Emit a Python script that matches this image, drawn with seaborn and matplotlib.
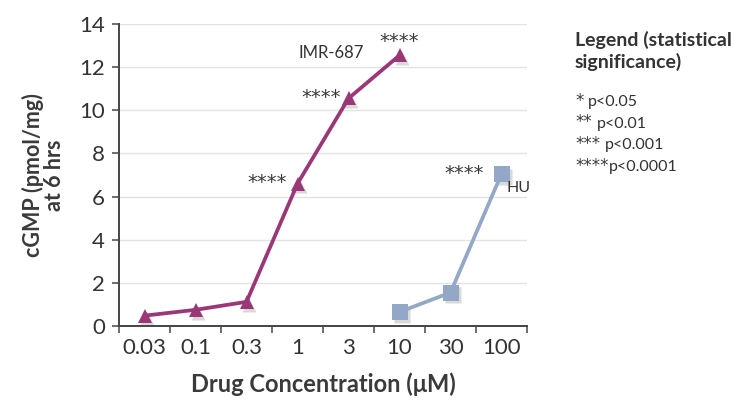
import numpy as np
import pandas as pd
import matplotlib
matplotlib.use("Agg")
import matplotlib.pyplot as plt
import seaborn as sns
from matplotlib.ticker import FixedLocator

categories = ["0.03", "0.1", "0.3", "1", "3", "10", "30", "100"]
imr_conc = ["0.03", "0.1", "0.3", "1", "3", "10"]
imr_vals = [0.48, 0.75, 1.12, 6.6, 10.55, 12.55]
hu_conc = ["10", "30", "100"]
hu_vals = [0.65, 1.55, 7.05]
imr_sig = ["", "", "", "****", "****", "****"]
hu_sig = ["", "", "****"]
legend_stars = ["*", "**", "***", "****"]
legend_p = ["p<0.05", "p<0.01", "p<0.001", "p<0.0001"]

df = pd.DataFrame({
    "conc": imr_conc + hu_conc,
    "val": imr_vals + hu_vals,
    "series": ["IMR-687"] * len(imr_conc) + ["HU"] * len(hu_conc),
})
df["pos"] = df["conc"].map(categories.index)

sns.set_theme(style="white")
plt.rcParams["font.family"] = ["Lato", "DejaVu Sans"]

fig = plt.figure(figsize=(7.31, 4.08), dpi=100)
ax = fig.add_axes([119 / 731, 1 - 326 / 408, (527 - 119) / 731, (326 - 24) / 408])

purple = "#9A3777"
blue = "#93A8C6"
pal = {"IMR-687": purple, "HU": blue}

# subtle shadow
for s, mk in [("IMR-687", "^"), ("HU", "s")]:
    d = df[df.series == s]
    ax.plot(d["pos"] + 0.05, d["val"] - 0.13, marker=mk, ls="none",
            color="#b5b5b5", alpha=0.5, ms=11 if mk == "s" else 10, mec="none", zorder=1)

sns.lineplot(data=df, x="pos", y="val", hue="series", style="series",
             markers={"IMR-687": "^", "HU": "s"}, dashes=False, palette=pal,
             linewidth=2.7, markersize=10, markeredgewidth=0, ax=ax, legend=False,
             zorder=3)
for ln in ax.lines:
    if ln.get_marker() == "s" and ln.get_color() == blue:
        ln.set_markersize(11.5)

ax.set_xlim(-0.5, 7.5)
ax.set_ylim(0, 14)
ax.set_yticks(np.arange(0, 15, 2))
ax.set_xticks(range(len(categories)))
ax.set_xticklabels(categories)
ax.xaxis.set_minor_locator(FixedLocator(np.arange(-0.5, 8, 1)))
ax.tick_params(axis="x", which="major", length=0, pad=9, labelsize=16, colors="#333333")
ax.tick_params(axis="x", which="minor", length=5, width=1.2, color="#555555", direction="out", bottom=True)
ax.tick_params(axis="y", length=5, width=1.2, color="#555555", direction="out", left=True,
               labelsize=16, colors="#333333", pad=5)
ax.yaxis.grid(True, color="#e3e3e3", linewidth=1)
ax.set_axisbelow(True)
for sp in ["top", "right"]:
    ax.spines[sp].set_visible(False)
ax.spines["left"].set_color("#444444")
ax.spines["left"].set_linewidth(1.4)
ax.spines["bottom"].set_color("#444444")
ax.spines["bottom"].set_linewidth(1.4)

ax.set_xlabel("Drug Concentration (μM)", fontsize=17, fontweight="bold", color="#3a3a3a", labelpad=10)
ax.set_ylabel("cGMP (pmol/mg)\nat 6 hrs", fontsize=15.5, fontweight="bold", color="#3a3a3a", labelpad=10,
              linespacing=1.0)

# significance stars
star_kw = dict(fontsize=14, color="#3a3a3a", ha="center", va="center", family="DejaVu Sans")
ax.annotate(imr_sig[3], (categories.index("1"), imr_vals[3]), xytext=(-22, 1), textcoords="offset points", **star_kw)
ax.annotate(imr_sig[4], (categories.index("3"), imr_vals[4]), xytext=(-20, 1), textcoords="offset points", **star_kw)
ax.annotate(imr_sig[5], (categories.index("10"), imr_vals[5]), xytext=(0, 10), textcoords="offset points", **star_kw)
ax.annotate(hu_sig[2], (categories.index("100"), hu_vals[2]), xytext=(-27, 0.5), textcoords="offset points", **star_kw)
ax.annotate("IMR-687", (categories.index("10"), imr_vals[5]), xytext=(-49, 2), textcoords="offset points",
            fontsize=12, color="#333333", ha="center", va="center")
ax.annotate("HU", (categories.index("100"), hu_vals[2]), xytext=(12.5, -10), textcoords="offset points",
            fontsize=11.5, color="#333333", ha="center", va="center")

fig.text(575 / 731, 1 - 51 / 408, "Legend (statistical\nsignificance)", fontsize=14, fontweight="bold",
         color="#333333", ha="left", va="center", linespacing=1.3)
for i, (st, p) in enumerate(zip(legend_stars, legend_p)):
    star_txt = fig.text(575 / 731, 1 - (101 + i * 21.5) / 408, st, fontsize=12, color="#3a3a3a",
                        ha="left", va="center", family="DejaVu Sans")
    gap = 3.5 if len(st) < 4 else 0.5
    ax.annotate(p, xy=(1, 0.5), xycoords=star_txt, xytext=(gap, -1), textcoords="offset points",
                fontsize=11.5, color="#333333", ha="left", va="center", annotation_clip=False)

fig.savefig("out.png", dpi=100)
